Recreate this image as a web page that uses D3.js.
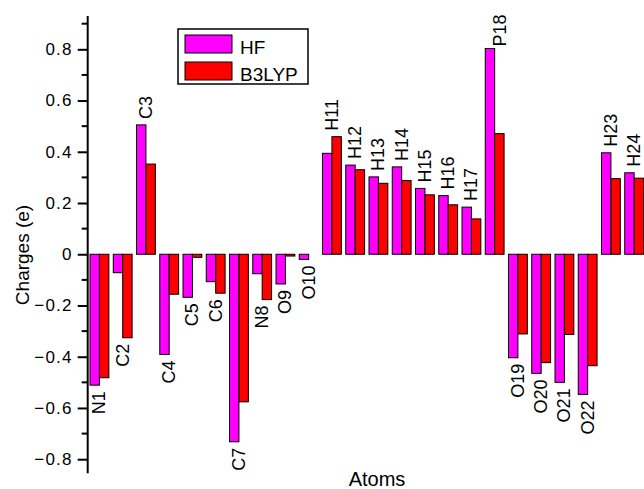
<!DOCTYPE html>
<html>
<head>
<meta charset="utf-8">
<script src="https://cdn.jsdelivr.net/npm/d3@7"></script>
<style>
  body { margin: 0; background: #fff; }
  svg { display: block; font-family: "Liberation Sans", Arial, sans-serif; }
</style>
</head>
<body>
<div id="chart"></div>
<script>
// atom labels and charges
const atoms = ["N1", "C2", "C3", "C4", "C5", "C6", "C7", "N8", "O9", "O10",
    "H11", "H12", "H13", "H14", "H15", "H16", "H17", "P18",
    "O19", "O20", "O21", "O22", "H23", "H24"];

const hf = [-0.511, -0.072, 0.505, -0.391, -0.168, -0.107, -0.732, -0.076, -0.116, -0.020,
    0.394, 0.348, 0.302, 0.341, 0.257, 0.229, 0.184, 0.803,
    -0.404, -0.465, -0.500, -0.547, 0.396, 0.318];

const b3lyp = [-0.482, -0.326, 0.352, -0.156, -0.012, -0.152, -0.576, -0.177, -0.007, 0.0,
    0.459, 0.330, 0.277, 0.288, 0.232, 0.193, 0.138, 0.471,
    -0.311, -0.423, -0.313, -0.435, 0.295, 0.297];

const series = ["HF", "B3LYP"];
const yTicks = [-0.8, -0.6, -0.4, -0.2, 0, 0.2, 0.4, 0.6, 0.8];
const yMinorTicks = [-0.7, -0.5, -0.3, -0.1, 0.1, 0.3, 0.5, 0.7, 0.9];

const W = 644, H = 489;
const colors = { HF: "#ff00ff", B3LYP: "#ff0000" };

const svg = d3.select("#chart").append("svg")
    .attr("width", W)
    .attr("height", H);

const x = d3.scaleBand()
    .domain(atoms)
    .range([87.7, 645.9])
    .paddingInner(0.19)
    .paddingOuter(0.1);

const xs = d3.scaleBand()
    .domain(series)
    .range([0, x.bandwidth()]);

const y = d3.scaleLinear()
    .domain([-0.855, 0.93])
    .range([473.3, 16]);

const rows = atoms.map((a, i) => ({ atom: a, HF: hf[i], B3LYP: b3lyp[i] }));

// bars
const groups = svg.append("g")
    .selectAll("g")
    .data(rows)
    .join("g")
    .attr("transform", d => `translate(${x(d.atom)},0)`);

groups.selectAll("rect")
    .data(d => series.map(s => ({ s, v: d[s] })))
    .join("rect")
    .attr("x", d => xs(d.s))
    .attr("width", xs.bandwidth())
    .attr("y", d => y(Math.max(0, d.v)))
    .attr("height", d => Math.abs(y(d.v) - y(0)))
    .attr("fill", d => colors[d.s])
    .attr("stroke", "#000")
    .attr("stroke-width", 1);

// atom labels, rotated, just beyond the longer bar
const labelTweak = { P18: { dx: 5, gap: 2 } };

svg.append("g")
    .selectAll("text")
    .data(rows)
    .join("text")
    .attr("transform", d => {
        const t = labelTweak[d.atom] || { dx: 0, gap: 6 };
        const cx = x(d.atom) + x.bandwidth() / 2 + t.dx;
        const top = Math.max(d.HF, d.B3LYP);
        const bot = Math.min(d.HF, d.B3LYP);
        const yy = top > 0 ? y(top) - t.gap : y(bot) + t.gap;
        return `translate(${cx},${yy}) rotate(-90)`;
    })
    .attr("text-anchor", d => Math.max(d.HF, d.B3LYP) > 0 ? "start" : "end")
    .attr("dominant-baseline", "central")
    .style("font-size", "18px")
    .text(d => d.atom);

// y axis
const gy = svg.append("g")
    .attr("transform", `translate(${x.range()[0]},0)`);

gy.call(d3.axisLeft(y)
    .tickValues(yTicks)
    .tickSize(10)
    .tickPadding(5)
    .tickFormat(d => d === 0 ? "0" : d3.format(".1f")(d)));

gy.selectAll(".tick text")
    .style("font-size", "17px")
    .style("letter-spacing", "1.2px")
    .style("font-family", "\"Liberation Sans\", Arial, sans-serif");
gy.selectAll(".tick line").attr("stroke-width", 2);
gy.select(".domain").attr("d", `M0,${y.range()[1]}V${y.range()[0]}`)
    .attr("stroke-width", 2);

gy.selectAll(".minor")
    .data(yMinorTicks)
    .join("line")
    .attr("class", "minor")
    .attr("x1", -6)
    .attr("x2", 0)
    .attr("y1", d => y(d))
    .attr("y2", d => y(d))
    .attr("stroke", "#000")
    .attr("stroke-width", 2);

// axis titles
svg.append("text")
    .attr("transform", `translate(29,255) rotate(-90)`)
    .attr("text-anchor", "middle")
    .style("font-size", "19px")
    .text("Charges (e)");

svg.append("text")
    .attr("x", 377)
    .attr("y", 486)
    .attr("text-anchor", "middle")
    .style("font-size", "20px")
    .text("Atoms");

// legend
const legend = svg.append("g").attr("transform", "translate(178,29)");

legend.append("rect")
    .attr("width", 130)
    .attr("height", 55)
    .attr("fill", "#fff")
    .attr("stroke", "#000")
    .attr("stroke-width", 1.5);

const items = legend.selectAll("g.item")
    .data(series)
    .join("g")
    .attr("class", "item")
    .attr("transform", (d, i) => `translate(7,${6 + i * 27})`);

items.append("rect")
    .attr("width", 47)
    .attr("height", 18)
    .attr("fill", d => colors[d])
    .attr("stroke", "#000")
    .attr("stroke-width", 1);

items.append("text")
    .attr("x", 55)
    .attr("y", 18.5)
    .style("font-size", "19px")
    .text(d => d);
</script>
</body>
</html>
